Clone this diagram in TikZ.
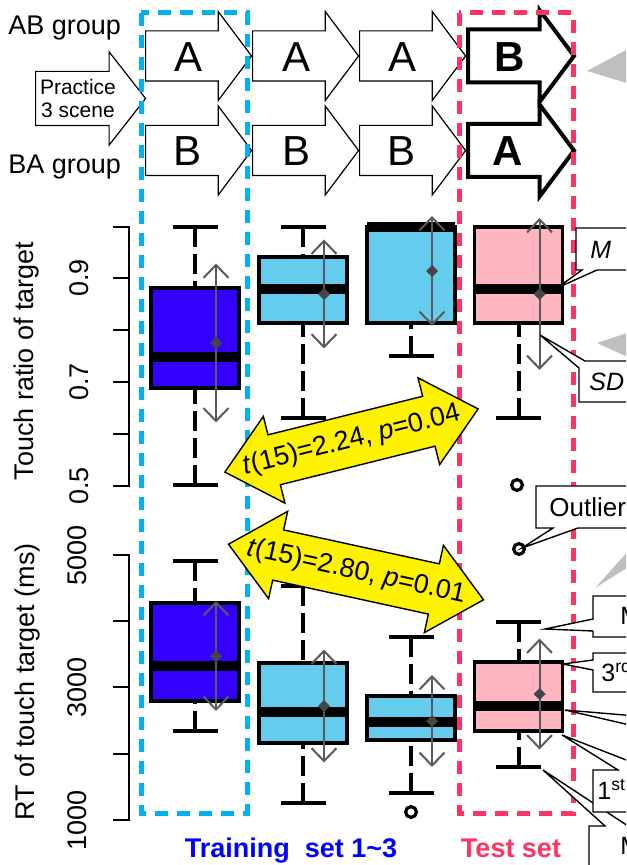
\documentclass[tikz,border=0pt]{standalone}
\usepackage{fontspec}
\setmainfont{Liberation Sans}
\usetikzlibrary{shapes.arrows, arrows.meta}
\definecolor{trainblue}{RGB}{0,176,240}
\definecolor{testred}{RGB}{255,51,102}
\definecolor{darkbox}{RGB}{51,0,255}
\definecolor{lightbox}{RGB}{102,204,238}
\definecolor{pinkbox}{RGB}{255,182,193}
\definecolor{sdgray}{RGB}{90,90,90}
\definecolor{meangray}{RGB}{70,70,70}
\definecolor{pointergray}{RGB}{191,191,191}
\newcommand{\bxplot}[9]{%
  \draw[whisk] (#1,#2) -- (#1,#3);
  \draw[whisk] (#1,#6) -- (#1,#5);
  \draw[capline] (#1-22.5,#2) -- (#1+22.5,#2);
  \draw[capline] (#1-22.5,#6) -- (#1+22.5,#6);
  \draw[boxline, fill=#7] (#1-44,#3) rectangle (#1+44,#5);
  \draw[medline] (#1-44,#4) -- (#1+44,#4);
  \draw[sdline] (#1+21,#8-#9) -- (#1+21,#8+#9);
  \fill[meangray] (#1+21,#8) +(-6,0) -- +(0,-6) -- +(6,0) -- +(0,6) -- cycle;
}
\begin{document}
\begin{tikzpicture}[x=0.5pt, y=-0.5pt, >={Straight Barb[length=6.5pt,width=12.5pt]},
    lab/.style={font=\fontsize{13.5}{16}\selectfont, inner sep=0pt},
    boldlab/.style={font=\fontsize{13.5}{16}\selectfont\bfseries, inner sep=0pt, anchor=base},
    letter/.style={font=\fontsize{21}{25}\selectfont, inner sep=0pt},
    blk/.style={single arrow, draw, fill=white, line width=0.6pt, minimum height=53pt,
      single arrow head extend=9.75pt, single arrow tip angle=106.26, inner xsep=0pt, inner ysep=12.25pt, anchor=tail},
    thickblk/.style={blk, line width=2pt},
    whisk/.style={line width=2pt, dash pattern=on 10pt off 3.5pt},
    capline/.style={line width=2pt},
    boxline/.style={line width=1.8pt},
    medline/.style={line width=5pt},
    sdline/.style={sdgray, line width=1pt, <->},
    outlierdot/.style={line width=1.6pt},
    axisline/.style={line width=0.8pt},
    trainbox/.style={trainblue, line width=2.5pt, dash pattern=on 6.5pt off 4.5pt},
    testbox/.style={testred, line width=2.5pt, dash pattern=on 6.5pt off 4.5pt},
    yarrow/.style={double arrow, draw, fill=yellow, line width=0.7pt, minimum height=130.5pt,
      double arrow head extend=9.5pt, double arrow tip angle=82.7, inner xsep=0pt, inner ysep=12.5pt},
    ytext/.style={font=\fontsize{13.5}{16}\selectfont, inner sep=0pt},
    calloutbox/.style={draw, fill=white, line width=0.7pt},
    calltxt/.style={font=\fontsize{12.5}{15}\selectfont, inner sep=0pt, anchor=west}]
  \useasboundingbox (0,0) rectangle (626,865);
  \clip (0,0) rectangle (626,865);

  \fill[pointergray] (587,71) -- (630,48) -- (630,84) -- cycle;
  \fill[pointergray] (597,343) -- (630,332) -- (630,358) -- cycle;
  \fill[pointergray] (595,588) -- (630,549) -- (630,566) -- cycle;

  \node[lab, anchor=base west] (abgroup) at (8,35) {AB group};
  \node[lab, anchor=base west] (bagroup) at (8,174) {BA group};

  \node[blk, minimum height=55pt, inner ysep=13.25pt, single arrow tip angle=103.9] (prac) at (35,98.5) {};
  \node[font=\fontsize{10.5}{11.5}\selectfont, inner sep=0pt, align=center] (practxt) at (78,98) {Practice\\3 scene};

  \node[blk] (ab1) at (145,56) {};
  \node[blk] (ab2) at (252,56) {};
  \node[blk] (ab3) at (359,56) {};
  \node[thickblk] (ab4) at (466,56) {};
  \node[blk] (ba1) at (145,150.5) {};
  \node[blk] (ba2) at (252,150.5) {};
  \node[blk] (ba3) at (359,150.5) {};
  \node[thickblk] (ba4) at (466,150.5) {};

  \node[letter] (la1) at (189,57) {A};
  \node[letter] (la2) at (296,57) {A};
  \node[letter] (la3) at (402,57) {A};
  \node[letter, font=\fontsize{21}{25}\selectfont\bfseries] (la4) at (510,57) {B};
  \node[letter] (lb1) at (188,151) {B};
  \node[letter] (lb2) at (296,151) {B};
  \node[letter] (lb3) at (401,151) {B};
  \node[letter, font=\fontsize{21}{25}\selectfont\bfseries] (lb4) at (508,151) {A};

  \draw[axisline] (113,227) -- (129,227) -- (129,486) -- (113,486)
    (113,278) -- (129,278) (113,330) -- (129,330) (113,382) -- (129,382) (113,434) -- (129,434);
  \node[lab, rotate=90, anchor=base] (t09) at (88,278) {0.9};
  \node[lab, rotate=90, anchor=base] (t07) at (88,382) {0.7};
  \node[lab, rotate=90, anchor=base] (t05) at (88,486) {0.5};
  \node[lab, rotate=90, anchor=base] (ytouch) at (33,361) {Touch ratio of target};

  \draw[axisline] (113,555) -- (129,555) -- (129,820) -- (113,820)
    (113,621) -- (129,621) (113,687) -- (129,687) (113,754) -- (129,754);
  \node[lab, rotate=90, anchor=base] (t5000) at (86,555) {5000};
  \node[lab, rotate=90, anchor=base] (t3000) at (86,687) {3000};
  \node[lab, rotate=90, anchor=base] (t1000) at (86,820) {1000};
  \node[lab, rotate=90, anchor=base] (yrt) at (34,682) {RT of touch target (ms)};

  \bxplot{195}{227}{288}{357}{388}{485}{darkbox}{343}{79.5}
  \bxplot{303}{227}{257}{289}{323}{418}{lightbox}{294}{54.5}
  \bxplot{411}{227}{227}{227}{323}{356}{lightbox}{271}{55}
  \bxplot{518.5}{227}{227}{289}{323}{418}{pinkbox}{294}{76}
  \draw[outlierdot] (517,485) circle[radius=2.7pt];

  \bxplot{195}{561}{603}{666}{701}{731}{darkbox}{656}{55}
  \bxplot{303}{586}{663}{712}{743}{803}{lightbox}{706}{56.5}
  \bxplot{411}{637}{696}{722}{740}{793}{lightbox}{721}{46}
  \bxplot{518.5}{622}{662}{706}{731}{767}{pinkbox}{694}{55.5}
  \draw[outlierdot] (411,812) circle[radius=2.7pt];
  \draw[outlierdot] (519,549) circle[radius=2.7pt];

  \draw[trainbox] (141,13) rectangle (247,813);
  \draw[testbox] (459,13) rectangle (573,813);

  \node[yarrow, rotate=14] (tt1) at (351.5,440.5) {};
  \node[ytext, rotate=14] (tt1txt) at (tt1.center) {\textit{t}(15)=2.24, \textit{p}=0.04};
  \node[yarrow, rotate=-12.3] (tt2) at (356,572) {};
  \node[ytext, rotate=-12.3] (tt2txt) at (tt2.center) {\textit{t}(15)=2.80, \textit{p}=0.01};

  \node[boldlab, text=blue] (trainlab) at (291,857) {Training~~set 1\textasciitilde 3};
  \node[boldlab, text=testred] (testlab) at (511,857) {Test set};

  \draw[calloutbox] (576,228) -- (720,228) -- (720,270) -- (597,270) -- (557,288) -- (582,270) -- (576,270) -- cycle;
  \node[calltxt] (mlab) at (590,250) {\textit{M}};
  \draw[calloutbox] (540,335) -- (585,361) -- (720,361) -- (720,402) -- (579,402) -- (579,368) -- cycle;
  \node[calltxt] (sdlab) at (589,382) {\textit{SD}};
  \draw[calloutbox] (536,486) -- (720,486) -- (720,528) -- (578,528) -- (522,548) -- (553,528) -- (536,528) -- cycle;
  \node[calltxt, font=\fontsize{13}{15}\selectfont] (outlab) at (549,507) {Outlier};

  \draw[calloutbox] (589,826) -- (605,826) -- (543,770) -- (628,826) -- (720,826) -- (720,900) -- (589,900) -- cycle;
  \node[calltxt] (minlab) at (620,846) {Minimum};
  \draw[calloutbox] (593,770) -- (618,770) -- (562,735) -- (652,770) -- (720,770) -- (720,812) -- (593,812) -- cycle;
  \node[calltxt] (q1lab) at (597,792) {1\textsuperscript{st} quartile};
  \draw[calloutbox] (565,710) -- (660,718) -- (660,700) -- (760,700) -- (760,745) -- (660,745) -- (660,732) -- cycle;
  \node[calltxt] (medlab) at (670,722) {Median};
  \draw[calloutbox] (593,653) -- (720,653) -- (720,692) -- (593,692) -- (593,670) -- (563,664) -- (593,660) -- cycle;
  \node[calltxt] (q3lab) at (601,673) {3\textsuperscript{rd} quartile};
  \draw[calloutbox] (593,596) -- (720,596) -- (720,637) -- (593,637) -- (593,631) -- (545,629) -- (593,619) -- cycle;
  \node[calltxt] (maxlab) at (620,616) {Maximum};
\end{tikzpicture}
\end{document}
